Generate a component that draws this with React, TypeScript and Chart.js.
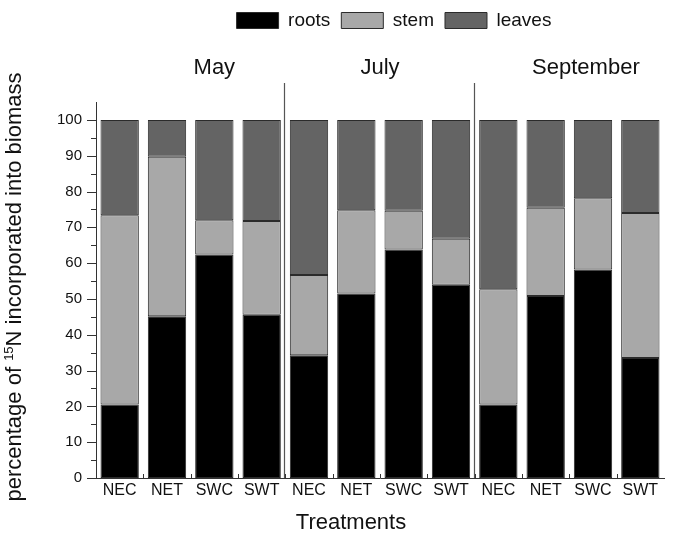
import React, { useEffect, useRef } from 'react';
import { Chart, registerables } from 'chart.js';

Chart.register(...registerables);

// Treatment per bar, three sampling months of four treatments each
const treatments = ['NEC', 'NET', 'SWC', 'SWT', 'NEC', 'NET', 'SWC', 'SWT', 'NEC', 'NET', 'SWC', 'SWT'];
const months = ['May', 'July', 'September'];
// month caption centres, expressed in category units of the x scale
const monthAnchors = [2.0, 5.5, 9.85];
const groupSize = 4;

// share of 15N (%) found in each plant part
const roots = [20.5, 45.2, 62.4, 45.6, 34.3, 51.5, 63.8, 54.0, 20.5, 50.8, 58.2, 33.5];
const stem = [52.9, 44.5, 9.6, 26.2, 22.4, 23.3, 10.8, 12.8, 32.2, 24.7, 19.9, 40.5];
const leaves = [26.6, 10.3, 28.0, 28.2, 43.3, 25.2, 25.4, 33.2, 47.3, 24.5, 21.9, 26.0];

const yMajorTicks = [0, 10, 20, 30, 40, 50, 60, 70, 80, 90, 100];
const yMinorTicks = [5, 15, 25, 35, 45, 55, 65, 75, 85, 95];

const FONT = '"Liberation Sans", Arial, Helvetica, sans-serif';
const INK = '#111';

const decorations = {
  id: 'decorations',
  beforeLayout(chart: any) {
    const legend = chart.legend;
    if (legend && !legend._tallFit) {
      const fit = legend.fit;
      legend.fit = function () {
        fit.call(this);
        this.height = 102; // room for the month captions under the legend
      };
      legend._tallFit = true;
    }
  },
  afterLayout(chart: any) {
    if (chart.legend) {
      chart.legend.left += 62;
      chart.legend.right += 62;
    }
  },
  afterDraw(chart: any) {
    const { ctx, chartArea: a, scales } = chart;
    const x = scales.x;
    const y = scales.y;
    ctx.save();

    // y tick marks (major and minor), pointing outward
    ctx.strokeStyle = '#333';
    ctx.lineWidth = 1;
    ctx.beginPath();
    for (const v of yMajorTicks) {
      const py = Math.round(y.getPixelForValue(v)) + 0.5;
      ctx.moveTo(a.left - 9, py);
      ctx.lineTo(a.left, py);
    }
    for (const v of yMinorTicks) {
      const py = Math.round(y.getPixelForValue(v)) + 0.5;
      ctx.moveTo(a.left - 5, py);
      ctx.lineTo(a.left, py);
    }
    // small inward ticks between bars
    for (let i = 0; i < treatments.length - 1; i++) {
      const px = Math.round(x.getPixelForValue(i + 0.5)) + 0.5;
      ctx.moveTo(px, a.bottom);
      ctx.lineTo(px, a.bottom - 4);
    }
    ctx.stroke();

    // separators between sampling months
    ctx.strokeStyle = '#555';
    ctx.lineWidth = 1.2;
    ctx.beginPath();
    for (let g = 1; g < months.length; g++) {
      const px = Math.round(x.getPixelForValue(g * groupSize - 0.5)) - 0.5;
      ctx.moveTo(px, 83);
      ctx.lineTo(px, a.bottom);
    }
    ctx.stroke();

    // month captions
    ctx.fillStyle = INK;
    ctx.font = `22px ${FONT}`;
    ctx.textAlign = 'center';
    ctx.textBaseline = 'middle';
    months.forEach((m, i) => {
      ctx.fillText(m, x.getPixelForValue(monthAnchors[i]), 68);
    });

    // x axis title
    ctx.fillText('Treatments', 351, 523);

    // y axis title with superscript mass number
    const partA = 'percentage of ';
    const sup = '15';
    const partB = 'N incorporated into biomass';
    ctx.font = `22px ${FONT}`;
    const wA = ctx.measureText(partA).width;
    const wB = ctx.measureText(partB).width;
    ctx.font = `13px ${FONT}`;
    const wS = ctx.measureText(sup).width;
    const total = wA + wS + wB;
    ctx.translate(13, 287);
    ctx.rotate(-Math.PI / 2);
    ctx.textAlign = 'left';
    ctx.textBaseline = 'alphabetic';
    let cx = -total / 2;
    ctx.font = `22px ${FONT}`;
    ctx.fillText(partA, cx, 8);
    cx += wA;
    ctx.font = `13px ${FONT}`;
    ctx.fillText(sup, cx, 0);
    cx += wS;
    ctx.font = `22px ${FONT}`;
    ctx.fillText(partB, cx, 8);

    ctx.restore();
  },
};

export default function App() {
  const canvasRef = useRef<HTMLCanvasElement | null>(null);

  useEffect(() => {
    const canvas = canvasRef.current;
    if (!canvas) return;
    const segment = {
      borderColor: '#2b2b2b',
      borderWidth: 1,
      borderSkipped: false as const,
      categoryPercentage: 1.0,
      barPercentage: 0.81,
    };
    const chart = new Chart(canvas, {
      type: 'bar',
      data: {
        labels: treatments,
        datasets: [
          { label: 'roots', data: roots, backgroundColor: '#000000', ...segment },
          { label: 'stem', data: stem, backgroundColor: '#a8a8a8', ...segment },
          { label: 'leaves', data: leaves, backgroundColor: '#646464', ...segment },
        ],
      },
      options: {
        animation: false,
        responsive: true,
        maintainAspectRatio: false,
        layout: { padding: { left: 0, right: 11, top: 0, bottom: 0 } },
        plugins: {
          tooltip: { enabled: false },
          legend: {
            position: 'top',
            labels: {
              boxWidth: 42,
              boxHeight: 16,
              padding: 11,
              color: INK,
              font: { family: FONT, size: 19 },
            },
          },
        },
        scales: {
          x: {
            stacked: true,
            grid: { display: false, drawTicks: false },
            border: { display: true, color: '#333', width: 1 },
            ticks: {
              color: INK,
              font: { family: FONT, size: 16 },
              padding: 3,
              maxRotation: 0,
              autoSkip: false,
            },
            afterFit(scale: any) {
              scale.height = 66;
            },
          },
          y: {
            stacked: true,
            min: 0,
            max: 105,
            grid: { display: false, drawTicks: false },
            border: { display: true, color: '#333', width: 1 },
            ticks: {
              color: INK,
              font: { family: FONT, size: 15 },
              padding: 14,
            },
            afterBuildTicks(scale: any) {
              scale.ticks = yMajorTicks.map((v) => ({ value: v }));
            },
            afterFit(scale: any) {
              scale.width = 96;
            },
          },
        },
      },
      plugins: [decorations],
    });
    return () => chart.destroy();
  }, []);

  return (
    <div style={{ position: 'fixed', left: 0, top: 0, width: 675, height: 544, background: '#fff' }}>
      <canvas ref={canvasRef} />
    </div>
  );
}
